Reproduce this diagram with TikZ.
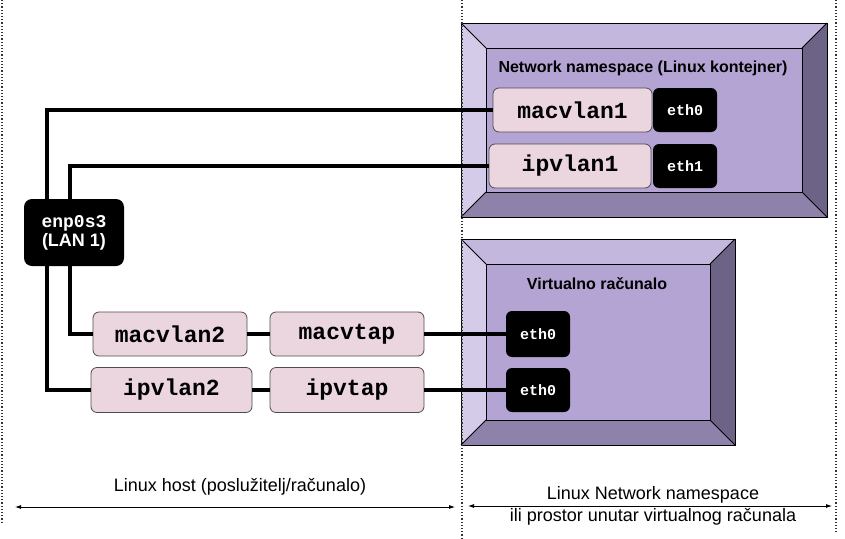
\documentclass[tikz,border=0pt]{standalone}
\usepackage{fontspec}
\setmainfont{Liberation Sans}
\setmonofont{Liberation Mono}
\usetikzlibrary{arrows.meta}
\definecolor{ifpink}{HTML}{EBD6E0}
\definecolor{bevtop}{HTML}{C4B7DD}
\definecolor{bevleft}{HTML}{D4CBE8}
\definecolor{bevright}{HTML}{6D6386}
\definecolor{bevbottom}{HTML}{8E81AA}
\definecolor{bevface}{HTML}{B3A4D4}
% framed box: outer corner, opposite corner, inset
\newcommand{\bevelbox}[5]{%
  \fill[bevtop] (#1,#2) -- (#3,#2) -- (#3-#5,#2+#5) -- (#1+#5,#2+#5) -- cycle;
  \fill[bevleft] (#1,#2) -- (#1+#5,#2+#5) -- (#1+#5,#4-#5) -- (#1,#4) -- cycle;
  \fill[bevright] (#3,#2) -- (#3,#4) -- (#3-#5,#4-#5) -- (#3-#5,#2+#5) -- cycle;
  \fill[bevbottom] (#1,#4) -- (#3,#4) -- (#3-#5,#4-#5) -- (#1+#5,#4-#5) -- cycle;
  \fill[bevface] (#1+#5,#2+#5) rectangle (#3-#5,#4-#5);
  \draw[line width=1pt] (#1,#2) rectangle (#3,#4);
  \draw[line width=0.8pt] (#1+#5,#2+#5) rectangle (#3-#5,#4-#5);
  \draw[line width=0.8pt] (#1,#2) -- (#1+#5,#2+#5) (#3,#2) -- (#3-#5,#2+#5)
    (#1,#4) -- (#1+#5,#4-#5) (#3,#4) -- (#3-#5,#4-#5);
}
\tikzset{
  ifbox/.style={draw=black!70, fill=ifpink, rounded corners=6pt, line width=0.8pt,
    inner sep=0pt, minimum height=44pt, font=\ttfamily\bfseries\fontsize{23}{26}\selectfont},
  portbox/.style={fill=black, rounded corners=6pt, text=white, inner sep=0pt,
    minimum width=64pt, minimum height=44pt, font=\ttfamily\bfseries\fontsize{15}{18}\selectfont},
  link/.style={line width=3.5pt, black},
  zone/.style={dotted, line width=1.2pt, black!80},
  span/.style={{Latex[length=6pt,width=4pt]}-{Latex[length=6pt,width=4pt]}, line width=0.8pt},
  title/.style={font=\bfseries\fontsize{16}{19}\selectfont},
  caption/.style={font=\fontsize{18}{22}\selectfont, align=center}
}
\begin{document}
\begin{tikzpicture}[x=1pt,y=-1pt]
    \useasboundingbox (0,0) rectangle (845,538);
    % frames
    \bevelbox{461}{23}{827}{217}{25}
    \bevelbox{461}{239}{735}{445}{25}
    \draw[zone] (2,0) -- (2,522);
    \draw[zone] (462,0) -- (462,538);
    \draw[zone] (836,0) -- (836,532);
    \node[title] (nstitle) at (643,68) {Network namespace (Linux kontejner)};
    \node[title] (vmtitle) at (597,284) {Virtualno računalo};
    % interfaces
    \node[ifbox, minimum width=159pt] (mac1) at (572.5,110) {macvlan1};
    \node[portbox] (ctEth0) at (685,110) {eth0};
    \node[ifbox, minimum width=162pt] (ipv1) at (570,166) {ipvlan1};
    \node[portbox] (ctEth1) at (685,166) {eth1};
    \node[fill=black, rounded corners=8pt, text=white, inner sep=0pt, minimum width=100pt,
      minimum height=67pt, align=center] (enp) at (74,232.5)
      {\ttfamily\bfseries\fontsize{18}{22}\selectfont enp0s3\\[1pt]\rmfamily\bfseries\fontsize{18}{22}\selectfont (LAN 1)};
    \node[ifbox, minimum width=154pt] (mac2) at (170,334) {macvlan2};
    \node[ifbox, minimum width=154pt] (mvtap) at (347,334) {macvtap};
    \node[ifbox, minimum width=161pt, minimum height=45pt] (ipv2) at (171.5,390) {ipvlan2};
    \node[ifbox, minimum width=154pt, minimum height=45pt] (ivtap) at (347,390) {ipvtap};
    \node[portbox, minimum height=46pt] (vmEth0a) at (538,334) {eth0};
    \node[portbox] (vmEth0b) at (538,390) {eth0};
    % links
    \coordinate (trunkA) at (47,0);
    \coordinate (trunkB) at (70,0);
    \draw[link] (mac1.west) -| (enp.north -| trunkA);
    \draw[link] (ipv1.west) -| (enp.north -| trunkB);
    \draw[link] (enp.south -| trunkB) |- (mac2.west);
    \draw[link] (enp.south -| trunkA) |- (ipv2.west);
    \draw[link] (mac2.east) -- (mvtap.west);
    \draw[link] (mvtap.east) -- (vmEth0a.west);
    \draw[link] (ipv2.east) -- (ivtap.west);
    \draw[link] (ivtap.east) -- (vmEth0b.west);
    % spans
    \coordinate (hostL) at (15,507);
    \coordinate (hostR) at (455,507);
    \coordinate (nsL) at (468,506);
    \coordinate (nsR) at (832,506);
    \draw[span] (hostL) -- (hostR);
    \draw[span] (nsL) -- (nsR);
    \node[caption] (hostlbl) at (240,487) {Linux host (poslužitelj/računalo)};
    \node[caption] (nslbl) at (653,506) {Linux Network namespace\\ili prostor unutar virtualnog računala};
\end{tikzpicture}
\end{document}
